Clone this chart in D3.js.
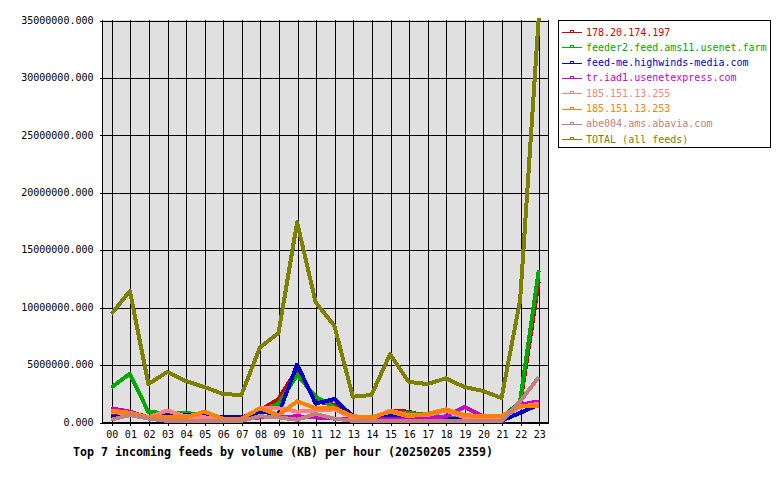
<!DOCTYPE html>
<html>
<head>
<meta charset="utf-8">
<script src="https://cdn.jsdelivr.net/npm/d3@7"></script>
<style>
html,body{margin:0;padding:0;background:#fff;}
svg{display:block;}
text{font-family:"DejaVu Sans Mono",monospace;}
</style>
</head>
<body>
<svg id="chart" width="780" height="480"></svg>
<script>
const hours = ["00","01","02","03","04","05","06","07","08","09","10","11","12","13","14","15","16","17","18","19","20","21","22","23"];
const yTicks = [0,5000000,10000000,15000000,20000000,25000000,30000000,35000000];
const seriesNames = ["178.20.174.197","feeder2.feed.ams11.usenet.farm","feed-me.highwinds-media.com","tr.iad1.usenetexpress.com","185.151.13.255","185.151.13.253","abe004.ams.abavia.com","TOTAL (all feeds)"];
const seriesColors = ["#cc0000","#00aa00","#0000cc","#cc00cc","#ff8080","#ff8000","#c08080","#808000"];
const M = 1000000;
const s178 = [0.5,0.6,0.4,0.6,0.6,0.5,0.4,0.3,1.0,2.0,4.6,1.8,1.5,0.4,0.3,1.0,0.9,0.5,0.4,0.3,0.2,0.2,1.5,12.2].map(v=>v*M);
const sFeeder2 = [3.0,4.2,0.85,0.8,0.8,0.6,0.4,0.3,0.9,1.6,4.1,2.2,1.3,0.3,0.3,0.7,0.8,0.6,0.4,0.3,0.3,0.3,1.8,13.2].map(v=>v*M);
const sHighwinds = [0.4,0.6,0.4,0.6,0.6,0.5,0.4,0.4,0.9,0.7,5.0,1.6,2.0,0.5,0.3,0.6,0.4,0.3,0.3,0.2,0.2,0.1,0.8,1.5].map(v=>v*M);
const sUsenetexpress = [1.2,0.9,0.4,0.4,0.5,0.4,0.3,0.2,0.4,0.4,0.5,0.4,0.3,0.2,0.2,0.3,0.3,0.3,0.5,1.3,0.5,0.4,1.5,1.8].map(v=>v*M);
const s255 = [0.9,0.7,0.4,1.0,0.5,0.4,0.3,0.3,1.2,1.2,0.9,1.0,1.1,0.4,0.3,1.0,0.6,0.6,1.0,0.4,0.3,0.3,1.3,1.6].map(v=>v*M);
const s253 = [1.0,0.8,0.4,0.4,0.4,0.9,0.3,0.3,1.2,0.6,1.8,1.2,1.2,0.5,0.4,0.9,0.5,0.7,1.1,0.6,0.5,0.5,1.4,1.4].map(v=>v*M);
const sAbavia = [0.2,0.6,0.3,0.1,0.1,0.1,0.1,0.1,0.5,0.4,0.2,0.7,0.3,0.1,0.1,0.1,0.1,0.1,0.05,0.05,0.05,0.05,1.8,3.9].map(v=>v*M);
const sTotal = [9.4,11.4,3.3,4.35,3.57,3.05,2.44,2.35,6.5,7.75,17.4,10.4,8.4,2.2,2.35,5.9,3.5,3.3,3.8,3.05,2.7,2.1,10.6,35.2].map(v=>v*M);
const seriesValues = [s178,sFeeder2,sHighwinds,sUsenetexpress,s255,s253,sAbavia,sTotal];
const titleText = "Top 7 incoming feeds by volume (KB) per hour (20250205 2359)";

const svg = d3.select("#chart");
const L = 102, R = 548, T = 20, B = 422;
const x = d3.scalePoint().domain(hours).range([L, R]).padding(0.5);
const y = d3.scaleLinear().domain([0, 35000000]).range([B, T]);

svg.append("rect").attr("x", L).attr("y", T).attr("width", R - L).attr("height", B - T).attr("fill", "#e0e0e0");

const yAxis = d3.axisLeft(y).tickValues(yTicks).tickFormat(d3.format(".3f")).tickSize(-(R - L + 3)).tickPadding(6);
const gy = svg.append("g").attr("transform", `translate(${L - 3 + 0.5},0)`).call(yAxis);
gy.select(".domain").remove();
gy.selectAll(".tick line").attr("stroke", "#000").attr("transform", "translate(0,0.5)").attr("shape-rendering", "crispEdges");
gy.selectAll(".tick text").attr("font-family", "DejaVu Sans Mono, monospace").attr("font-size", "10px").attr("fill", "#000").attr("x", -6);

const xAxis = d3.axisBottom(x).tickSize(-(B - T + 4)).tickPadding(6);
const gx = svg.append("g").attr("transform", `translate(0.5,${B + 4})`).call(xAxis);
gx.select(".domain").remove();
gx.selectAll(".tick line").attr("stroke", "#000").attr("shape-rendering", "crispEdges");
gx.selectAll(".tick text").attr("font-family", "DejaVu Sans Mono, monospace").attr("font-size", "10px").attr("fill", "#000").attr("y", 5);

svg.append("line").attr("x1", L + 0.5).attr("x2", L + 0.5).attr("y1", T).attr("y2", B + 1).attr("stroke", "#000").attr("shape-rendering", "crispEdges");
svg.append("line").attr("x1", R + 0.5).attr("x2", R + 0.5).attr("y1", T).attr("y2", B + 1).attr("stroke", "#000").attr("shape-rendering", "crispEdges");
svg.append("line").attr("x1", L).attr("x2", R + 1).attr("y1", B + 0.5).attr("y2", B + 0.5).attr("stroke", "#000").attr("shape-rendering", "crispEdges");

const line = d3.line().x((d, i) => x(hours[i])).y(d => y(d));
seriesValues.forEach((vals, i) => {
  svg.append("path").datum(vals).attr("d", line).attr("fill", "none")
    .attr("stroke", seriesColors[i]).attr("stroke-width", 4).attr("stroke-linejoin", "round")
    .attr("shape-rendering", "crispEdges");
});

const lg = svg.append("g");
lg.append("rect").attr("x", 558.5).attr("y", 20.5).attr("width", 212).attr("height", 127)
  .attr("fill", "#fff").attr("stroke", "#000").attr("shape-rendering", "crispEdges");
seriesNames.forEach((name, i) => {
  const yy = 32 + i * 15.3;
  const c = seriesColors[i];
  lg.append("line").attr("x1", 562).attr("x2", 582).attr("y1", Math.round(yy) + 0.5).attr("y2", Math.round(yy) + 0.5)
    .attr("stroke", c).attr("shape-rendering", "crispEdges");
  lg.append("rect").attr("x", 570.5).attr("y", Math.round(yy) - 1.5).attr("width", 3).attr("height", 2)
    .attr("fill", "none").attr("stroke", c).attr("shape-rendering", "crispEdges");
  lg.append("text").attr("x", 586).attr("y", yy + 3.5).attr("font-size", "10px").attr("fill", c).text(name);
});

svg.append("text").attr("x", 73).attr("y", 456).attr("font-size", "12px").attr("font-weight", "bold")
  .attr("textLength", 420).attr("lengthAdjust", "spacingAndGlyphs").attr("fill", "#000").text(titleText);
</script>
</body>
</html>
